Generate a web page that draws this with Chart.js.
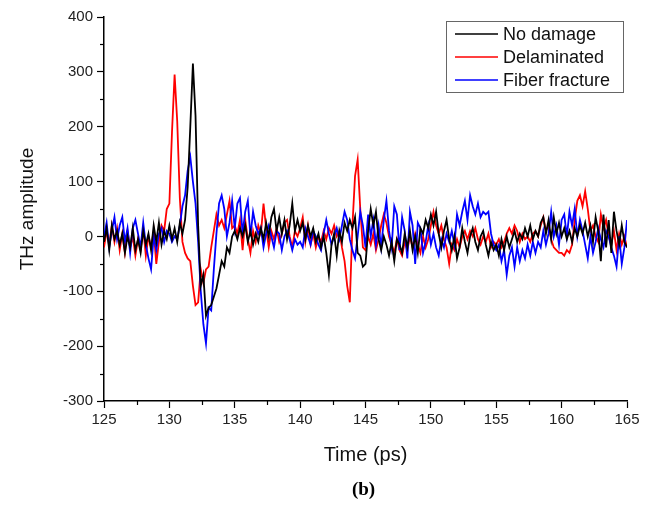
<!DOCTYPE html>
<html><head><meta charset="utf-8">
<script src="https://cdn.jsdelivr.net/npm/chart.js@4.4.0/dist/chart.umd.min.js"></script>
<style>html,body{margin:0;padding:0;background:#fff;}#wrap{width:652px;height:506px;position:relative;}</style>
</head><body><div id="wrap"><canvas id="c" width="652" height="506"></canvas></div>
<script>
// ---- data (THz amplitude sampled every 0.2 ps from 125 to 165 ps) ----
const seriesNames = ['No damage', 'Delaminated', 'Fiber fracture'];
const timeStart = 125, timeStep = 0.2;
const noDamage = [
 -10,15,-25,20,-5,10,-15,5,-30,0,-20,15,-25,-5,-30,10,-15,5,-25,20,-10,25,-15,10,-5,
 20,-5,15,-10,25,5,30,90,200,315,220,20,-90,-70,-145,-130,-125,-110,-95,-70,-45,-55,-20,-30,0,
 10,-5,15,0,20,-10,10,-15,5,-10,15,-5,25,0,35,50,10,35,5,30,-5,20,60,10,30,
 10,25,-5,20,0,15,-10,5,-20,0,-30,-70,-15,5,-35,10,-10,25,10,30,15,35,-30,-35,-55,
 -50,10,50,20,45,-5,-25,0,-15,-35,-10,-45,-5,-15,-30,5,-20,10,-25,0,-30,15,5,30,15,
 40,20,45,5,-20,10,30,-5,-25,0,-40,-20,15,-10,-30,0,15,-10,-25,0,10,-15,-35,-10,-25,
 -15,-35,-5,-25,0,-20,-5,10,-10,5,-5,15,0,20,-5,10,0,25,35,5,30,-5,35,5,25,
 0,15,-5,10,-10,15,0,20,5,25,0,20,-10,35,10,-45,40,-20,30,-30,45,10,-15,20,-10,-20
];
const delaminated = [
 -20,10,-15,20,-10,15,-25,5,-30,10,-20,0,-35,-5,-25,15,-35,0,-20,10,-50,-10,20,10,50,
 60,190,295,210,70,-10,-30,-40,-45,-90,-125,-120,-60,-85,-60,-55,-20,10,40,20,30,15,40,65,15,
 20,5,30,-25,30,-5,-30,10,-10,20,5,60,15,-20,10,-5,15,-10,5,25,30,0,-20,10,0,
 15,35,-10,20,-15,5,-20,0,-10,10,-5,15,5,20,0,10,-20,-45,-90,-120,20,110,140,50,-20,
 -25,0,-15,5,-25,-5,20,40,25,0,-15,-30,-5,-25,-35,-10,-25,0,-20,5,-15,-30,0,-20,-5,
 20,45,20,5,20,-5,-20,-50,-15,-25,-5,-20,0,10,-5,10,0,15,-5,-15,0,-10,5,-20,-10,
 -15,-5,-20,-10,5,15,5,20,10,-10,5,-5,0,-10,5,10,0,20,35,10,20,-5,-20,-25,-30,
 -30,-35,-25,-30,-15,30,65,75,55,82,50,10,20,0,-10,40,15,30,0,-15,10,-25,5,-15,0,-20
];
const fiberFracture = [
 0,25,-20,10,35,-5,20,35,-10,15,-30,15,30,5,-20,25,-15,-40,-60,0,-25,5,15,-10,10,
 5,-10,0,-5,20,55,75,120,145,100,60,-10,-100,-160,-195,-130,-135,-60,5,60,75,50,0,25,65,
 15,60,70,5,45,65,0,45,20,5,15,-20,5,20,0,-20,10,5,-25,0,10,-5,-25,-5,-15,
 -10,-20,15,0,-15,10,0,-15,-25,5,30,5,-15,0,15,-5,20,45,30,-5,-25,-40,0,45,20,
 -20,40,0,30,-15,20,-20,30,65,10,-20,55,40,-25,35,10,-40,45,20,-50,25,15,-30,-10,20,
 -15,5,-20,-35,-5,-20,5,-10,10,-15,40,20,45,65,30,75,55,40,60,35,45,40,45,5,-15,
 -25,-15,-45,-25,-70,-35,-20,-55,-20,-45,-25,-40,-15,-35,-10,-30,-10,-20,10,-15,5,45,0,20,-15,
 30,40,0,45,20,50,0,30,10,-15,-40,0,-30,-10,15,-5,-20,10,0,-20,-35,-55,0,-50,-20,30
];
const xTickLabels = [125,130,135,140,145,150,155,160,165];
const xMinorTicks = [127.5,132.5,137.5,142.5,147.5,152.5,157.5,162.5];
const yTickLabels = [-300,-200,-100,0,100,200,300,400];
const yMinorTicks = [-250,-150,-50,50,150,250,350];
const seriesColors = ['#000000', '#ff0000', '#0000ff'];
const captionText = '(b)';

const times = noDamage.map((_, i) => +(timeStart + timeStep * i).toFixed(1));
const toPts = arr => arr.map((v, i) => ({x: times[i], y: v}));

const FONT = 'Arial, "Liberation Sans", sans-serif';

const minorTicksPlugin = {
  id: 'minorTicks',
  afterDraw(chart) {
    const {ctx, chartArea: a, scales: {x, y}} = chart;
    ctx.save();
    ctx.strokeStyle = '#000'; ctx.lineWidth = 1.2;
    xMinorTicks.forEach(v => {
      const px = Math.round(x.getPixelForValue(v)) + 0.5;
      ctx.beginPath(); ctx.moveTo(px, a.bottom); ctx.lineTo(px, a.bottom + 4); ctx.stroke();
    });
    yMinorTicks.forEach(v => {
      const py = Math.round(y.getPixelForValue(v)) + 0.5;
      ctx.beginPath(); ctx.moveTo(a.left, py); ctx.lineTo(a.left - 4, py); ctx.stroke();
    });
    // caption under the axis title, centred on the plot area
    ctx.fillStyle = '#000';
    ctx.font = 'bold 19px "Liberation Serif", "Times New Roman", serif';
    ctx.textAlign = 'center'; ctx.textBaseline = 'middle';
    ctx.fillText(captionText, (a.left + a.right) / 2 - 2, 490);
    ctx.restore();
  }
};

const legendPlugin = {
  id: 'boxLegend',
  afterDraw(chart) {
    const {ctx} = chart;
    const bx = 446, by = 21, bw = 177, bh = 71;
    ctx.save();
    ctx.fillStyle = '#fff';
    ctx.fillRect(bx, by, bw, bh);
    ctx.strokeStyle = '#666'; ctx.lineWidth = 1;
    ctx.strokeRect(bx + 0.5, by + 0.5, bw, bh);
    ctx.font = '18px ' + FONT;
    ctx.textBaseline = 'middle';
    chart.data.datasets.forEach((ds, i) => {
      const yy = by + 13 + i * 23;
      ctx.strokeStyle = ds.borderColor; ctx.lineWidth = 1.5;
      ctx.beginPath(); ctx.moveTo(455, yy); ctx.lineTo(498, yy); ctx.stroke();
      ctx.fillStyle = '#111';
      ctx.fillText(ds.label, 503, yy + 1);
    });
    ctx.restore();
  }
};

new Chart(document.getElementById('c'), {
  type: 'line',
  data: {
    datasets: [
      {label: seriesNames[0], data: toPts(noDamage), borderColor: seriesColors[0], order: 0},
      {label: seriesNames[1], data: toPts(delaminated), borderColor: seriesColors[1], order: 2},
      {label: seriesNames[2], data: toPts(fiberFracture), borderColor: seriesColors[2], order: 1}
    ].map(d => Object.assign(d, {borderWidth: 1.8, pointRadius: 0, tension: 0, fill: false}))
  },
  options: {
    responsive: false,
    devicePixelRatio: 1,
    animation: false,
    layout: {padding: {top: 17, right: 25, left: 0, bottom: 26.6}},
    plugins: {
      legend: {display: false},
      tooltip: {enabled: false},
      title: {display: false}
    },
    scales: {
      x: {
        type: 'linear', min: 125, max: 165,
        afterBuildTicks: s => { s.ticks = xTickLabels.map(v => ({value: v})); },
        afterFit: s => { s.height = 78.4; },
        ticks: {color: '#222', font: {family: FONT, size: 15}, padding: 3, maxRotation: 0, autoSkip: false},
        grid: {drawOnChartArea: false, drawTicks: true, tickLength: 7, tickColor: '#000', tickWidth: 1.2},
        border: {display: true, color: '#000', width: 1.5},
        title: {display: true, text: 'Time (ps)', color: '#111', font: {family: FONT, size: 20}, padding: {top: 0, bottom: 12.4}}
      },
      y: {
        type: 'linear', min: -300, max: 400,
        afterBuildTicks: s => { s.ticks = yTickLabels.map(v => ({value: v})); },
        afterFit: s => { s.width = 104; },
        ticks: {color: '#222', font: {family: FONT, size: 15}, padding: 4, autoSkip: false},
        grid: {drawOnChartArea: false, drawTicks: true, tickLength: 7, tickColor: '#000', tickWidth: 1.2},
        border: {display: true, color: '#000', width: 1.5},
        title: {display: true, text: 'THz amplitude', color: '#111', font: {family: FONT, size: 19}, padding: {top: 16.6, bottom: 0}}
      }
    }
  },
  plugins: [minorTicksPlugin, legendPlugin]
});
</script></body></html>
